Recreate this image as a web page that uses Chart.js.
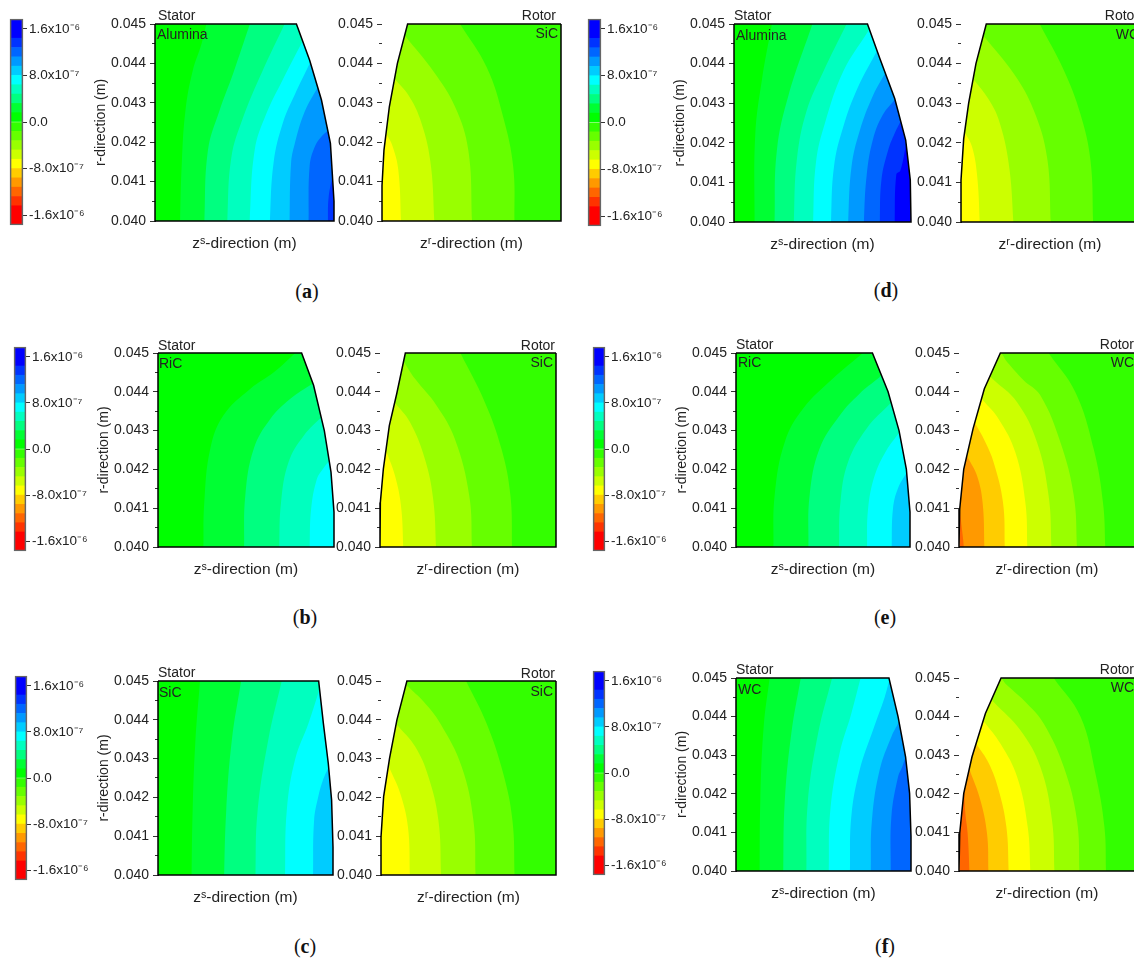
<!DOCTYPE html>
<html>
<head>
<meta charset="utf-8">
<script src="https://cdn.jsdelivr.net/npm/chart.js@4/dist/chart.umd.min.js"></script>
<style>
html, body { margin: 0; padding: 0; background: #fff; }
#page { position: relative; width: 1134px; height: 959px; overflow: hidden; font-family: "Liberation Sans", Arial, sans-serif; color: #222; }
#page canvas { position: absolute; }
.note { position: absolute; font-size: 14px; line-height: 16px; white-space: nowrap; }
.cap { position: absolute; font: 20px/24px "Liberation Serif", serif; color: #111; transform: translate(-50%, -50%); }
.cap b { font-weight: bold; }
</style>
</head>
<body>
<div id="page"></div>
<script>
// colour bar, low to high
const bandColors = ['#ff0000','#ff3300','#ff6600','#ff9900','#ffcc00','#ffff00','#ccff00','#99ff00','#66ff00','#33ff00',
  '#00ff00','#00ff33','#00ff80','#00ffbf','#00ffff','#00ccff','#0099ff','#0066ff','#0033ff','#0000ff'];
const cbarLevels = [-1.77e-6,-1.44e-6,-1.28e-6,-1.12e-6,-9.6e-7,-8e-7,-6.4e-7,-4.8e-7,-3.2e-7,-1.6e-7,0,
  1.6e-7,3.2e-7,4.8e-7,6.4e-7,8e-7,9.6e-7,1.12e-6,1.28e-6,1.44e-6,1.77e-6];
const cbarTicks = [-1.6e-6,-8e-7,0,8e-7,1.6e-6];
const cbarTickLabels = ['-1.6x10⁻⁶','-8.0x10⁻⁷','0.0','8.0x10⁻⁷','1.6x10⁻⁶'];

const rTicks = [0.040,0.041,0.042,0.043,0.044,0.045];
const rMinorTicks = [0.0405,0.0415,0.0425,0.0435,0.0445];

// [z in % of plot width, r in m]. stator bands go up from #00ff00, rotor bands go down from #33ff00
const profileAStator = [[79,.045],[86.4,.04408],[93,.04307],[98,.04197],[100,.0405],[100,.04]];
const curvesAStator = [
  [[14,.04],[15,.0415],[17,.0428],[21,.0438],[26,.0445],[28.7,.045]],
  [[27.6,.04],[29.6,.0418],[36,.0428],[43.6,.04374],[53,.045]],
  [[40.4,.04],[42.6,.0416],[49,.0426],[60,.0438],[72.4,.045]],
  [[52.9,.04],[55.7,.0418],[62,.0427],[71.5,.0436],[81.7,.0445]],
  [[64.2,.04],[66.3,.0415],[71.5,.0425],[78,.0432],[86.4,.044]],
  [[75.2,.04],[76,.04146],[78,.04195],[83.6,.04277],[91,.0434]],
  [[85.8,.04],[86.4,.0414],[89.2,.04188],[92.9,.04214],[96.6,.0423]],
  [[96.6,.04],[97,.0406],[99.4,.0412]]
];
const profileARotor = [[14.3,.045],[8.6,.044],[4.1,.0429],[1.1,.0418],[0,.0409],[0,.04]];
const curvesARotor = [
  [[74,.04],[73.3,.04138],[67.7,.04264],[58.5,.0439],[43.6,.045]],
  [[50.3,.04],[48.2,.0418],[40.8,.0429],[28.7,.0438],[12.8,.0447]],
  [[29.2,.04],[26.9,.04155],[21.2,.0426],[14.7,.0432],[7.3,.0436]],
  [[10.6,.04],[9.1,.0413],[5.9,.0419],[2.6,.0422]]
];
const profileBStator = [[81.6,.045],[88.4,.04417],[94.5,.043],[98.3,.04193],[100,.0409],[100,.04]];
const curvesBStator = [
  [[25.8,.04],[26.3,.04115],[29.7,.04253],[37.3,.0434],[52.5,.04408],[66,.04451],[78,.045]],
  [[48.9,.04],[49.6,.04133],[54.4,.04253],[63.8,.0433],[75.2,.04382],[87.5,.0442]],
  [[68.9,.04],[69.9,.04115],[74.2,.04219],[82.8,.04287],[93.8,.04339]],
  [[86.2,.04],[87,.04098],[90.3,.04176],[93.7,.04201],[97.9,.04227]]
];
const profileBRotor = [[14.4,.045],[9.5,.04395],[5.3,.04313],[1.9,.04201],[.2,.04115],[0,.04]];
const curvesBRotor = [
  [[75,.04],[74.1,.04133],[69,.04253],[59.5,.04374],[45.7,.045]],
  [[52.2,.04],[50.7,.04133],[42.5,.04279],[32.1,.04365],[19.8,.04434],[13.6,.04477]],
  [[31.8,.04],[30.2,.04124],[25.5,.04227],[17,.04322],[8.5,.04372]],
  [[13.2,.04],[11.9,.04107],[8.5,.04184],[3.8,.04244]]
];
const profileCStator = [[91.8,.045],[94.5,.04391],[97.3,.04288],[99.2,.04193],[100,.04072],[100,.04]];
const curvesCStator = [
  [[19.2,.04],[19.8,.04167],[21.3,.0434],[24,.045]],
  [[37.8,.04],[39,.04167],[42.2,.04348],[47.5,.045]],
  [[55.7,.04],[56.8,.04159],[63,.04348],[70.7,.045]],
  [[72.6,.04],[73.6,.04167],[78.3,.04297],[86,.04391],[91.6,.04469]],
  [[88.6,.04],[89.2,.04141],[91.6,.04202],[94,.04241],[97.5,.04279]]
];
const profileCRotor = [[14.8,.045],[9.1,.044],[4.9,.04301],[1.5,.04202],[0,.04098],[0,.04]];
const curvesCRotor = [
  [[76.3,.04],[75.1,.04141],[69.8,.04262],[60.3,.04391],[48.6,.045]],
  [[54,.04],[52.8,.04141],[46.1,.04279],[33.8,.04391],[24.3,.04447],[15.4,.04486]],
  [[34.3,.04],[32.8,.04141],[27.1,.04253],[19.5,.04331],[9.1,.04387]],
  [[16.5,.04],[15.4,.04124],[11,.0421],[4.9,.04275]]
];
const profileDStator = [[75.4,.045],[82.4,.04413],[90.8,.04312],[97,.04207],[99.6,.04106],[100,.04]];
const curvesDStator = [
  [[11.6,.04],[12,.0422],[15.8,.0436],[21.4,.045]],
  [[22.9,.04],[24.2,.0418],[30.8,.0432],[44.3,.045]],
  [[33.8,.04],[35.5,.04157],[41,.0428],[50.5,.0438],[63.6,.045]],
  [[44.7,.04],[46.3,.0415],[51.4,.0425],[61.7,.0438],[75.5,.0448]],
  [[54.8,.04],[56.5,.0414],[61.7,.0424],[70,.0434],[80.5,.0443]],
  [[64.5,.04],[66.4,.0414],[71,.0423],[78.6,.0432],[86,.0438]],
  [[73.4,.04],[75,.0412],[78.6,.0421],[84,.0427],[91,.0431]],
  [[82.4,.04],[83.3,.04106],[87,.0418],[90.8,.04224],[94.6,.04258]],
  [[90.8,.04],[91.7,.0412],[94,.0413],[97.4,.042]]
];
const profileDRotor = [[14.2,.045],[8.4,.044],[4.3,.043],[1.5,.0421],[0,.04106],[0,.04]];
const curvesDRotor = [
  [[74.2,.04],[72.7,.04157],[67,.04274],[57.7,.04384],[44.2,.045]],
  [[50.4,.04],[48.3,.04165],[40.8,.04283],[29.6,.04375],[12.7,.0447]],
  [[29.4,.04],[26.8,.04148],[21.2,.04258],[15.5,.0431],[7.5,.04358]],
  [[10.5,.04],[9,.0412],[6.2,.0419],[2.4,.04224]]
];
const profileEStator = [[78.4,.045],[87.4,.044],[93.7,.043],[97.9,.04201],[100,.0409],[100,.04]];
const curvesEStator = [
  [[21.5,.04],[22.2,.04133],[28,.0427],[38.5,.04356],[55.7,.04434],[73,.045]],
  [[41.6,.04],[42.3,.04133],[48,.04253],[59.6,.04339],[71,.04395],[81.6,.04434]],
  [[59.2,.04],[60,.04115],[64.4,.04219],[75,.04305],[89.3,.04373]],
  [[75.3,.04],[75.9,.04098],[79.7,.04184],[86.4,.04249],[94,.04296]],
  [[89.5,.04],[90.2,.04098],[93,.0415],[98.3,.04193]]
];
const profileERotor = [[23.5,.045],[14.4,.04408],[8,.04305],[2.7,.04201],[.4,.04098],[0,.04]];
const curvesERotor = [
  [[83.1,.04],[81.8,.04115],[76.5,.04253],[66,.044],[50.9,.045]],
  [[67,.04],[65.2,.04133],[57.6,.0427],[46.2,.04391],[36.7,.0443],[27.3,.04477]],
  [[52.5,.04],[50.9,.04133],[44.3,.0427],[33,.04373],[18.8,.04434]],
  [[38.8,.04],[37.7,.04115],[32,.04244],[22.5,.0433],[13.6,.04378]],
  [[26,.04],[25,.04115],[19.7,.04218],[15,.0427],[9.3,.04318]],
  [[14.4,.04],[13.4,.04115],[10.2,.04184],[4.9,.04231]],
  [[2.7,.04],[1.7,.04046],[.4,.04098]]
];
const profileFStator = [[87.4,.045],[92.6,.044],[96.9,.04296],[99.2,.04201],[100,.0409],[100,.04]];
const curvesFStator = [
  [[13.5,.04],[13.9,.04184],[15.8,.04373],[19.2,.045]],
  [[27,.04],[27.8,.04176],[31.6,.04356],[37,.045]],
  [[40.2,.04],[41,.04176],[46.9,.04356],[54.9,.045]],
  [[53,.04],[53.9,.04158],[59.2,.04305],[65.9,.04408],[71.2,.045]],
  [[65.1,.04],[65.9,.04141],[70.7,.04262],[78.3,.04365],[85,.04451],[87.4,.0449]],
  [[77,.04],[77.7,.04133],[82.1,.04262],[88.8,.04348],[93.1,.04386]],
  [[88.4,.04],[88.8,.04141],[92.6,.04244],[95,.0427],[96.9,.04296]]
];
const profileFRotor = [[23.9,.045],[15,.04408],[7.4,.04296],[2.7,.04201],[.4,.04098],[0,.04]];
const curvesFRotor = [
  [[83.5,.04],[82.6,.04115],[77.5,.04253],[69,.044],[53.8,.045]],
  [[68.4,.04],[67,.04133],[59.5,.0427],[48.1,.04382],[38.6,.04434],[27.3,.04481]],
  [[54.2,.04],[52.8,.04133],[46.2,.0427],[34.8,.04365],[19.7,.04438]],
  [[40.5,.04],[39,.04115],[33,.04244],[23.5,.0433],[14.4,.04386]],
  [[28.2,.04],[26.9,.04115],[22.5,.0421],[16.9,.04279],[9.7,.0433]],
  [[16.7,.04],[15.9,.04098],[12.1,.04184],[6,.04262]],
  [[5.9,.04],[4.9,.04098],[3.6,.0415],[3,.04214]]
];

// layout of the 12 contour plots
const panels = [
  {x:155,y:24,w:179,h:197,type:'s',curves:curvesAStator,profile:profileAStator},
  {x:382,y:24,w:179,h:197,type:'r',curves:curvesARotor,profile:profileARotor},
  {x:734,y:24,w:177,h:198,type:'s',curves:curvesDStator,profile:profileDStator},
  {x:961,y:24,w:178,h:198,type:'r',curves:curvesDRotor,profile:profileDRotor},
  {x:158,y:353,w:176,h:194,type:'s',curves:curvesBStator,profile:profileBStator},
  {x:380,y:353,w:176,h:194,type:'r',curves:curvesBRotor,profile:profileBRotor},
  {x:736,y:353,w:174,h:194,type:'s',curves:curvesEStator,profile:profileEStator},
  {x:959,y:353,w:176,h:194,type:'r',curves:curvesERotor,profile:profileERotor},
  {x:158,y:681,w:175,h:194,type:'s',curves:curvesCStator,profile:profileCStator},
  {x:381,y:681,w:175,h:194,type:'r',curves:curvesCRotor,profile:profileCRotor},
  {x:736,y:678,w:175,h:193,type:'s',curves:curvesFStator,profile:profileFStator},
  {x:959,y:678,w:176,h:193,type:'r',curves:curvesFRotor,profile:profileFRotor}
];
const colorbars = [
  {x:10,y:19,w:13,h:206},{x:588,y:19,w:13,h:207},
  {x:14,y:347,w:12,h:204},{x:593,y:347,w:12,h:204},
  {x:15,y:676,w:12,h:204},{x:593,y:671,w:12,h:204}
];
// text, left or right edge, centre y
const notes = [
  ['Stator',158,15],['Alumina',157,34],['Rotor',-556,15],['SiC',-558,33],
  ['Stator',734,15],['Alumina',736,35],['Rotor',-1139,15],['WC',-1139,34],
  ['Stator',158,345],['RiC',159,363],['Rotor',-555,345],['SiC',-553,362],
  ['Stator',736,344],['RiC',738,362],['Rotor',-1134,344],['WC',-1134,362],
  ['Stator',158,672],['SiC',159,692],['Rotor',-555,673],['SiC',-553,691],
  ['Stator',736,669],['WC',738,689],['Rotor',-1134,669],['WC',-1134,687]
];
const captions = [['a',307,291],['b',305,617],['c',305,946],['d',886,290],['e',885,617],['f',885,946]];

const page = document.getElementById('page');
const textColor = '#222';
const tickFont = {family:'"Liberation Sans", Arial, sans-serif', size:14};
const xTitleFont = {family:tickFont.family, size:15.5};

function addCanvas(left, top, w, h) {
  const c = document.createElement('canvas');
  c.width = w; c.height = h;
  c.style.left = left + 'px'; c.style.top = top + 'px';
  c.style.width = w + 'px'; c.style.height = h + 'px';
  page.appendChild(c);
  return c;
}
function pts(list) { return list.map(p => ({x:p[0], y:p[1]})); }

// polygon from a contour out to the side of the plot; the profile mask trims it afterwards
function bandPolygon(curve, zOut) {
  const n = curve.length;
  const a = curve[n-2], b = curve[n-1];
  const end = [b[0]+(b[0]-a[0])*0.5, b[1]+(b[1]-a[1])*0.5];
  return [[zOut,.039],[curve[0][0],.0395],...curve,end,[zOut,end[1]]];
}
function shape(list, color, tension) {
  return {data:pts(list), backgroundColor:color, borderWidth:0, fill:'shape', pointRadius:0, tension:tension};
}

function drawPanel(p) {
  const stator = p.type === 's';
  const zOut = stator ? 130 : -30;
  const sets = [];
  const plotEdge = stator ? 0 : 100;
  // base band covers the whole plot
  sets.push(shape([[-30,.039],[130,.039],[130,.046],[-30,.046]], stator ? '#00ff00' : '#33ff00', 0));
  p.curves.forEach((c, i) => {
    const col = stator ? bandColors[11+i] : bandColors[8-i];
    sets.push(shape(bandPolygon(c, zOut), col, 0.4));
  });
  // white outside of the blade profile
  const topZ = p.profile[0][0];
  sets.push(shape([[topZ,.046],...p.profile,[p.profile[p.profile.length-1][0],.039],[zOut,.039],[zOut,.046]], '#fff', 0));
  // outline
  sets.push({data:pts([[plotEdge,.045],...p.profile,[plotEdge,.04],[plotEdge,.045]]), borderColor:'#000', borderWidth:1.5,
    pointRadius:0, fill:false, tension:0, clip:4});

  const canvas = addCanvas(p.x-62, p.y-12, p.w+66, p.h+44);
  new Chart(canvas, {
    type:'line',
    data:{datasets:sets.reverse()},
    options:{
      responsive:false, animation:false,
      layout:{padding:{top:12,right:4,left:0,bottom:0}},
      elements:{line:{capBezierPoints:false}},
      plugins:{legend:{display:false}, tooltip:{enabled:false}},
      scales:{
        x:{type:'linear', min:0, max:100, ticks:{display:false}, grid:{display:false}, border:{display:false},
          title:{display:true, text:stator ? 'zˢ-direction (m)' : 'zʳ-direction (m)', color:textColor, font:xTitleFont, padding:0},
          afterFit:s => { s.height = 32; }},
        y:{min:.04, max:.045, weight:1,
          afterBuildTicks:s => { s.ticks = rTicks.map(v => ({value:v})); },
          ticks:{callback:v => v.toFixed(3), color:textColor, font:tickFont, padding:4, autoSkip:false},
          grid:{drawOnChartArea:false, tickLength:5, tickColor:'#333'},
          border:{color:'#333'},
          title:{display:stator, text:'r-direction (m)', color:textColor, font:tickFont, padding:0},
          afterFit:s => { s.width = 62; s.paddingTop = 0; s.paddingBottom = 0; }},
        yMinor:{position:'left', min:.04, max:.045, weight:0,
          afterBuildTicks:s => { s.ticks = rMinorTicks.map(v => ({value:v})); },
          ticks:{display:false},
          grid:{drawOnChartArea:false, tickLength:3, tickColor:'#333'},
          border:{display:false},
          afterFit:s => { s.width = 0; s.paddingTop = 0; s.paddingBottom = 0; }}
      }
    }
  });
}

function drawColorbar(b) {
  const sets = bandColors.map((col, i) => ({data:[[cbarLevels[i], cbarLevels[i+1]]], backgroundColor:col}));
  sets.unshift({data:[[cbarLevels[0], cbarLevels[20]]], backgroundColor:'rgba(0,0,0,0)', borderColor:'#666', borderWidth:1, clip:3, borderSkipped:false});
  const canvas = addCanvas(b.x-2, b.y-4, b.w+92, b.h+8);
  new Chart(canvas, {
    type:'bar',
    data:{labels:['u'], datasets:sets},
    options:{
      responsive:false, animation:false,
      layout:{padding:{left:2,top:4,bottom:4,right:0}},
      plugins:{legend:{display:false}, tooltip:{enabled:false}},
      datasets:{bar:{grouped:false, barPercentage:1, categoryPercentage:1}},
      scales:{
        x:{display:false},
        y:{position:'right', min:cbarLevels[0], max:cbarLevels[20],
          afterBuildTicks:s => { s.ticks = cbarTicks.map(v => ({value:v})); },
          ticks:{callback:(v, i) => cbarTickLabels[i], color:textColor, font:{family:tickFont.family, size:13.5}, padding:2, autoSkip:false},
          grid:{drawOnChartArea:false, tickLength:4, tickColor:'#333'},
          border:{display:false},
          afterFit:s => { s.width = 90; s.paddingTop = 0; s.paddingBottom = 0; }}
      }
    }
  });
}

colorbars.forEach(drawColorbar);
panels.forEach(drawPanel);

notes.forEach(n => {
  const d = document.createElement('div');
  d.className = 'note';
  d.textContent = n[0];
  if (n[1] < 0) d.style.right = (1134 + n[1]) + 'px';
  else d.style.left = n[1] + 'px';
  d.style.top = (n[2]-8) + 'px';
  page.appendChild(d);
});
captions.forEach(c => {
  const d = document.createElement('div');
  d.className = 'cap';
  d.innerHTML = '(<b>' + c[0] + '</b>)';
  d.style.left = c[1] + 'px'; d.style.top = c[2] + 'px';
  page.appendChild(d);
});
</script>
</body>
</html>
